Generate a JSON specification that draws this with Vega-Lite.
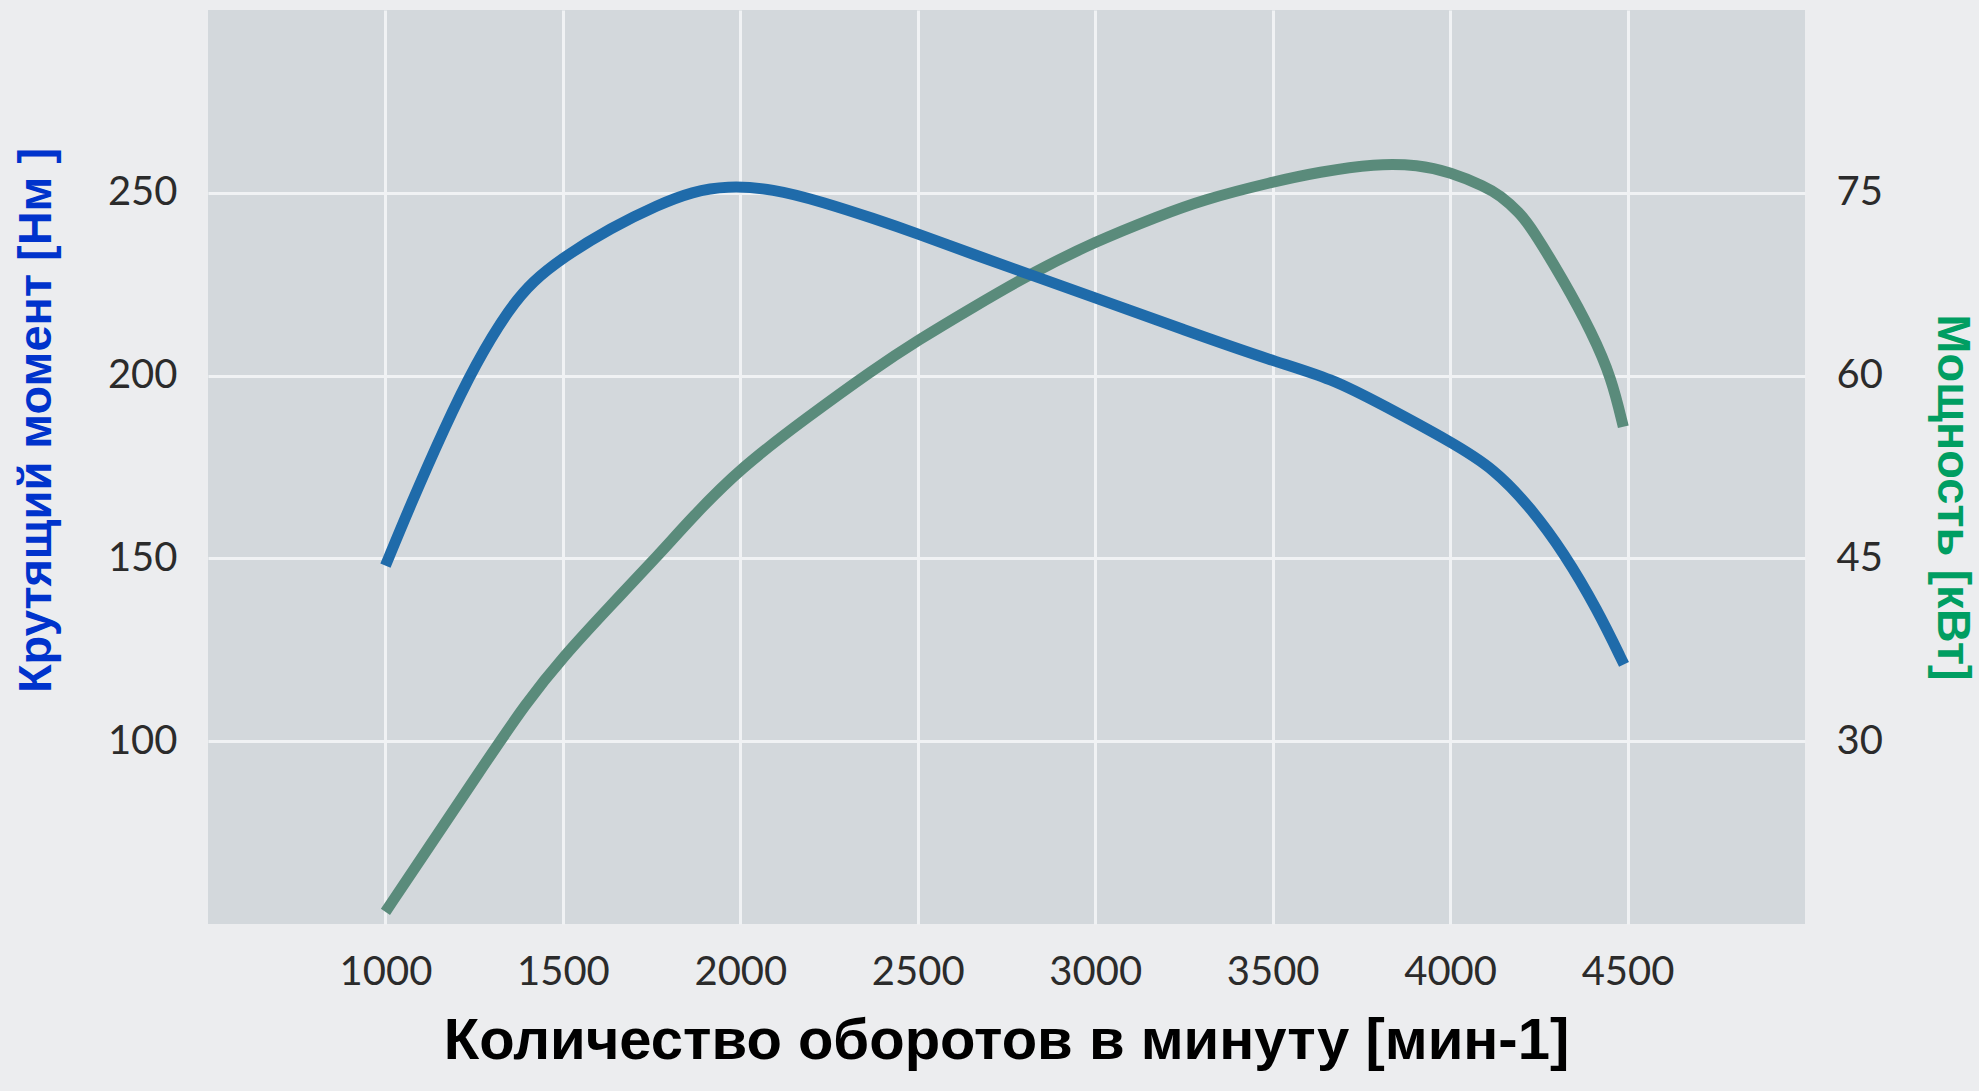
{
  "$schema": "https://vega.github.io/schema/vega-lite/v6.json",
  "width": 1597,
  "height": 914,
  "autosize": {"type": "none"},
  "padding": {"left": 208, "top": 10, "right": 174, "bottom": 167},
  "background": "#ECEDEF",
  "config": {
    "view": {"fill": "#D3D8DC", "stroke": null},
    "axis": {
      "ticks": false,
      "tickSize": 0,
      "domain": false,
      "labelFont": "Lato",
      "labelFontSize": 40,
      "labelColor": "#2B2B2B",
      "gridColor": "#F0F2F4",
      "gridWidth": 3,
      "gridOpacity": 1,
      "format": "d"
    }
  },
  "datasets": {
    "torque": [
      {"rpm": 1000, "torque": 148},
      {"rpm": 1070, "torque": 164.5},
      {"rpm": 1165, "torque": 185.5},
      {"rpm": 1255, "torque": 203.5},
      {"rpm": 1350, "torque": 218.5},
      {"rpm": 1415, "torque": 225.8},
      {"rpm": 1500, "torque": 232.3},
      {"rpm": 1635, "torque": 240.4},
      {"rpm": 1770, "torque": 246.8},
      {"rpm": 1865, "torque": 250.3},
      {"rpm": 1960, "torque": 251.9},
      {"rpm": 2090, "torque": 251.2},
      {"rpm": 2235, "torque": 247.4},
      {"rpm": 2375, "torque": 243},
      {"rpm": 2500, "torque": 238.8},
      {"rpm": 2655, "torque": 233.2},
      {"rpm": 2820, "torque": 227.5},
      {"rpm": 3000, "torque": 221.3},
      {"rpm": 3250, "torque": 212.5},
      {"rpm": 3500, "torque": 204},
      {"rpm": 3665, "torque": 199.3},
      {"rpm": 3815, "torque": 191.7},
      {"rpm": 4000, "torque": 182},
      {"rpm": 4125, "torque": 174.5},
      {"rpm": 4230, "torque": 163.5},
      {"rpm": 4320, "torque": 151.6},
      {"rpm": 4415, "torque": 136},
      {"rpm": 4490, "torque": 121}
    ],
    "power": [
      {"rpm": 1000, "power": 16},
      {"rpm": 1120, "power": 21.2},
      {"rpm": 1260, "power": 27.3},
      {"rpm": 1400, "power": 33.3},
      {"rpm": 1500, "power": 36.9},
      {"rpm": 1630, "power": 41},
      {"rpm": 1770, "power": 45.3},
      {"rpm": 1865, "power": 48.4},
      {"rpm": 2000, "power": 52.4},
      {"rpm": 2185, "power": 56.5},
      {"rpm": 2375, "power": 60.5},
      {"rpm": 2500, "power": 62.9},
      {"rpm": 2655, "power": 65.6},
      {"rpm": 2820, "power": 68.4},
      {"rpm": 3000, "power": 71},
      {"rpm": 3180, "power": 73.1},
      {"rpm": 3300, "power": 74.4},
      {"rpm": 3500, "power": 75.9},
      {"rpm": 3630, "power": 76.7},
      {"rpm": 3790, "power": 77.4},
      {"rpm": 3910, "power": 77.3},
      {"rpm": 4000, "power": 76.7},
      {"rpm": 4100, "power": 75.5},
      {"rpm": 4140, "power": 74.8},
      {"rpm": 4195, "power": 73.4},
      {"rpm": 4230, "power": 72.1},
      {"rpm": 4320, "power": 67.8},
      {"rpm": 4400, "power": 63.5},
      {"rpm": 4455, "power": 59.8},
      {"rpm": 4488, "power": 55.8}
    ]
  },
  "layer": [
    {
      "data": {"name": "power"},
      "mark": {"type": "line", "color": "#5A8B7B", "strokeWidth": 11, "interpolate": "basis"},
      "encoding": {
        "x": {
          "field": "rpm",
          "type": "quantitative",
          "scale": {"domain": [500, 5000], "nice": false, "zero": false},
          "axis": {
            "values": [1000, 1500, 2000, 2500, 3000, 3500, 4000, 4500],
            "grid": true,
            "format": "d",
            "labelBaseline": "middle",
            "labelPadding": 48,
            "title": "Количество оборотов в минуту [мин-1]",
            "titleFont": "Liberation Sans Narrow, Arial Narrow, Liberation Sans",
            "titleFontSize": 58,
            "titleFontWeight": "bold",
            "titleColor": "#000000",
            "titleBaseline": "alphabetic",
            "titleAlign": "center",
            "titleX": 798,
            "titleY": 134
          }
        },
        "y": {
          "field": "power",
          "type": "quantitative",
          "scale": {"domain": [15, 90], "nice": false, "zero": false},
          "axis": {
            "orient": "right",
            "values": [30, 45, 60, 75],
            "grid": false,
            "format": "d",
            "labelPadding": 31,
            "labelAlign": "left",
            "title": "Мощность [кВт]",
            "titleFont": "Liberation Sans",
            "titleFontSize": 47,
            "titleFontWeight": "bold",
            "titleColor": "#009E62",
            "titleAngle": 90,
            "titleAlign": "center",
            "titleBaseline": "alphabetic",
            "titleX": 132,
            "titleY": 487
          }
        }
      }
    },
    {
      "data": {"name": "torque"},
      "mark": {"type": "line", "color": "#1F6BAA", "strokeWidth": 11, "interpolate": "basis"},
      "encoding": {
        "x": {
          "field": "rpm",
          "type": "quantitative",
          "scale": {"domain": [500, 5000], "nice": false, "zero": false}
        },
        "y": {
          "field": "torque",
          "type": "quantitative",
          "scale": {"domain": [50, 300], "nice": false, "zero": false},
          "axis": {
            "orient": "left",
            "values": [100, 150, 200, 250],
            "grid": true,
            "format": "d",
            "labelPadding": 31,
            "title": "Крутящий момент [Нм ]",
            "titleFont": "Liberation Sans",
            "titleFontSize": 47,
            "titleFontWeight": "bold",
            "titleColor": "#0033CC",
            "titleAngle": -90,
            "titleAlign": "center",
            "titleBaseline": "alphabetic",
            "titleX": -158,
            "titleY": 410
          }
        }
      }
    }
  ],
  "resolve": {"scale": {"y": "independent"}}
}
